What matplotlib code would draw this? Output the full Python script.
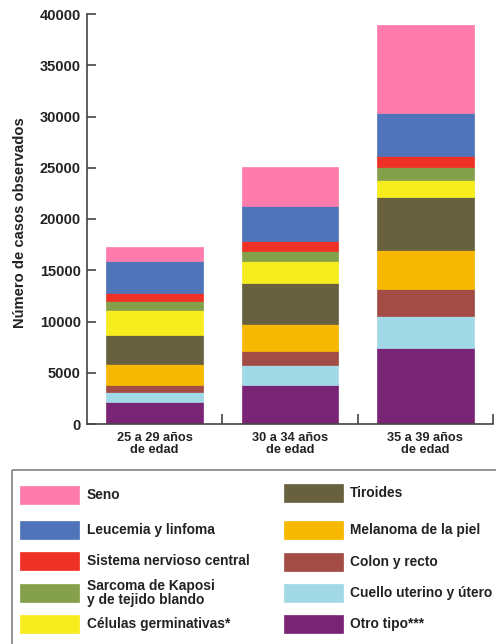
import matplotlib
matplotlib.use("Agg")
import matplotlib.pyplot as plt
from matplotlib.patches import Rectangle
import numpy as np

plt.rcParams['font.family'] = ['Liberation Sans', 'DejaVu Sans']
plt.rcParams['font.weight'] = 'bold'
plt.rcParams['axes.labelweight'] = 'bold'

# age groups on the x axis
grupos = ['25 a 29 años\nde edad', '30 a 34 años\nde edad', '35 a 39 años\nde edad']

# cancer types, stacked from the bottom up
tipos = ['Otro tipo***', 'Cuello uterino y útero', 'Colon y recto',
         'Melanoma de la piel', 'Tiroides', 'Células germinativas*',
         'Sarcoma de Kaposi\ny de tejido blando', 'Sistema nervioso central',
         'Leucemia y linfoma', 'Seno']

colores = ['#7A2475', '#A2D9E6', '#A34B45', '#F6B800', '#686140',
           '#F7EC1D', '#84A04B', '#EE3124', '#4F74BA', '#FF7BAC']

# observed cases per type, one value per age group
casos = {
    'Otro tipo***':                          [2150, 3810, 7420],
    'Cuello uterino y útero':                [940, 1910, 3080],
    'Colon y recto':                         [750, 1370, 2680],
    'Melanoma de la piel':                   [2020, 2670, 3830],
    'Tiroides':                              [2790, 4000, 5110],
    'Células germinativas*':                 [2510, 2110, 1720],
    'Sarcoma de Kaposi\ny de tejido blando': [810, 1010, 1270],
    'Sistema nervioso central':              [810, 1010, 1050],
    'Leucemia y linfoma':                    [3160, 3350, 4160],
    'Seno':                                  [1300, 3800, 8620],
}

W, H = 496, 644
fig = plt.figure(figsize=(W / 100, H / 100), dpi=100)
ax = fig.add_axes([87 / W, 220 / H, 406 / W, 410 / H])

x = np.arange(len(grupos))
base = np.zeros(len(grupos))
for tipo, col in zip(tipos, colores):
    vals = np.array(casos[tipo])
    ax.bar(x, vals, bottom=base, width=0.715, color=col, edgecolor=col, linewidth=0.5)
    base += vals

axis_col = '#444444'
txt_col = '#222222'
ax.set_xlim(-0.5, 2.5)
ax.set_ylim(0, 40000)
ax.set_yticks(np.arange(0, 40001, 5000))
for s in ['top', 'right']:
    ax.spines[s].set_visible(False)
for s in ['left', 'bottom']:
    ax.spines[s].set_color(axis_col)
    ax.spines[s].set_linewidth(1.2)

ax.tick_params(axis='y', direction='in', length=6.5, width=1.2, color=axis_col,
               labelsize=10.5, labelcolor=txt_col, pad=4.5)
for lbl in ax.get_yticklabels():
    lbl.set_fontweight('bold')
ax.set_xticks(x)
ax.set_xticklabels(grupos, fontsize=9.2, color=txt_col, linespacing=1.0,
                   fontweight='bold')
ax.tick_params(axis='x', which='major', length=0, pad=6)
ax.set_xticks([0.5, 1.5, 2.5], minor=True)
ax.tick_params(axis='x', which='minor', direction='in', length=7, width=1.2, color=axis_col)

ax.set_ylabel('Número de casos observados', fontsize=10.6, color=txt_col,
              fontweight='bold')
ax.yaxis.set_label_coords(-0.148, 0.49)

# legend panel drawn in pixel coordinates
lax = fig.add_axes([0, 0, 1, 1])
lax.set_xlim(0, W)
lax.set_ylim(H, 0)
lax.axis('off')
lax.add_patch(Rectangle((12, 470), 540, 220, fill=False, edgecolor='#808080', lw=1.2))

filas = {
    'Seno': (20, 87, 495), 'Leucemia y linfoma': (20, 87, 530),
    'Sistema nervioso central': (20, 87, 561),
    'Sarcoma de Kaposi\ny de tejido blando': (20, 87, 593),
    'Células germinativas*': (20, 87, 624),
    'Tiroides': (284, 350, 493), 'Melanoma de la piel': (284, 350, 530),
    'Colon y recto': (284, 350, 562), 'Cuello uterino y útero': (284, 350, 593),
    'Otro tipo***': (284, 350, 624),
}
for tipo, col in zip(tipos, colores):
    sx, tx, cy = filas[tipo]
    lax.add_patch(Rectangle((sx, cy - 9), 59, 18, facecolor=col, edgecolor=col, lw=0.5))
    lax.text(tx, cy, tipo, fontsize=9.9, color=txt_col, va='center', ha='left',
             linespacing=0.95, fontweight='bold')

fig.savefig('out.png', dpi=100)
